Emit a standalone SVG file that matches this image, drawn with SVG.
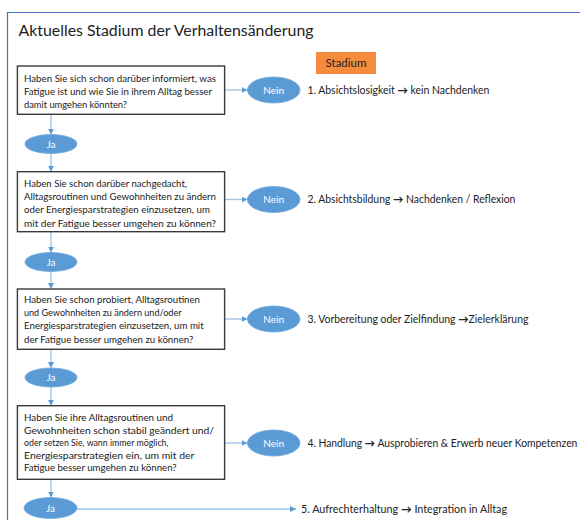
<svg xmlns="http://www.w3.org/2000/svg" width="580" height="520" viewBox="0 0 580 520">
<style>
  .frame{fill:none;stroke:#4472C4;stroke-width:1.2}
  .title{font-family:Lato,"Liberation Sans",sans-serif;font-size:15.5px;fill:#222}
  .box{fill:#fff;stroke:#3a3a3a;stroke-width:1.4}
  .qt{font-family:Lato,"Liberation Sans",sans-serif;font-size:9.6px;fill:#222}
  .ell{fill:#5B9BD5;stroke:#6FA8DC;stroke-width:0.8}
  .et{font-family:Lato,"Liberation Sans",sans-serif;font-size:10px;fill:#fff;text-anchor:middle}
  .lab{font-family:Lato,"Liberation Sans",sans-serif;font-size:10.5px;fill:#222}
  .ar{font-weight:bold}
  .con{stroke:#9DC3E6;stroke-width:1.3;fill:none}
  .stad{fill:#F68B3E}
  .st{font-family:Lato,"Liberation Sans",sans-serif;font-size:11.5px;fill:#222;text-anchor:middle}
</style>
<defs>
  <marker id="ah" markerUnits="userSpaceOnUse" markerWidth="6" markerHeight="6" refX="6" refY="3" orient="auto">
    <path d="M0,0 L6,3 L0,6 z" fill="#5B9BD5"/>
  </marker>
</defs>
<rect width="580" height="520" fill="#fff"/>
<path class="frame" d="M7.5,530 L7.5,12.5 L590,12.5"/>
<text class="title" x="18.5" y="36" textLength="295" lengthAdjust="spacingAndGlyphs">Aktuelles Stadium der Verhaltensänderung</text>

<g id="stadium">
  <rect class="stad" x="316" y="52" width="60" height="22"/>
  <text class="st" x="346" y="67">Stadium</text>
</g>

<g id="connectors">
  <line class="con" x1="51" y1="114.3" x2="51" y2="134.5" marker-end="url(#ah)"/>
  <line class="con" x1="51" y1="153.5" x2="51" y2="171.7" marker-end="url(#ah)"/>
  <line class="con" x1="51" y1="231.7" x2="51" y2="252.5" marker-end="url(#ah)"/>
  <line class="con" x1="51" y1="271.5" x2="51" y2="289" marker-end="url(#ah)"/>
  <line class="con" x1="51" y1="349.3" x2="51" y2="368" marker-end="url(#ah)"/>
  <line class="con" x1="51" y1="387" x2="51" y2="405.7" marker-end="url(#ah)"/>
  <line class="con" x1="51" y1="479.3" x2="51" y2="497.5" marker-end="url(#ah)"/>
  <line class="con" x1="225" y1="90" x2="247.5" y2="90" marker-end="url(#ah)"/>
  <line class="con" x1="225" y1="199.5" x2="247.5" y2="199.5" marker-end="url(#ah)"/>
  <line class="con" x1="225" y1="319" x2="247.5" y2="319" marker-end="url(#ah)"/>
  <line class="con" x1="225" y1="443" x2="247.5" y2="443" marker-end="url(#ah)"/>
  <line class="con" x1="77" y1="509" x2="296" y2="509" marker-end="url(#ah)"/>
</g>

<g id="q1">
  <rect class="box" x="17.4" y="66" width="207.2" height="48.3"/>
  <text class="qt" x="24" y="82" textLength="192" lengthAdjust="spacingAndGlyphs">Haben Sie sich schon darüber informiert, was</text>
  <text class="qt" x="24" y="95" textLength="188" lengthAdjust="spacingAndGlyphs">Fatigue ist und wie Sie in ihrem Alltag besser</text>
  <text class="qt" x="24" y="108" textLength="103" lengthAdjust="spacingAndGlyphs">damit umgehen könnten?</text>
</g>
<g id="nein1">
  <ellipse class="ell" cx="273.7" cy="90" rx="26.3" ry="13"/>
  <text class="et" x="273.7" y="93.5">Nein</text>
</g>
<text class="lab" x="307.4" y="93.8" textLength="182" lengthAdjust="spacingAndGlyphs">1. Absichtslosigkeit <tspan class="ar">→</tspan> kein Nachdenken</text>

<g id="ja2">
  <ellipse class="ell" cx="51" cy="144" rx="26" ry="9.5"/>
  <text class="et" x="51" y="147.5">Ja</text>
</g>

<g id="q2">
  <rect class="box" x="17.4" y="171.7" width="207.2" height="60"/>
  <text class="qt" x="24" y="187" textLength="163" lengthAdjust="spacingAndGlyphs">Haben Sie schon darüber nachgedacht,</text>
  <text class="qt" x="24" y="200.2" textLength="192" lengthAdjust="spacingAndGlyphs">Alltagsroutinen und Gewohnheiten zu ändern</text>
  <text class="qt" x="24" y="213.4" textLength="186" lengthAdjust="spacingAndGlyphs">oder Energiesparstrategien einzusetzen, um</text>
  <text class="qt" x="24" y="226.6" textLength="192" lengthAdjust="spacingAndGlyphs">mit der Fatigue besser umgehen zu können?</text>
</g>
<g id="nein2">
  <ellipse class="ell" cx="273.7" cy="199.5" rx="26.3" ry="13"/>
  <text class="et" x="273.7" y="203">Nein</text>
</g>
<text class="lab" x="307.4" y="203.3" textLength="208" lengthAdjust="spacingAndGlyphs">2. Absichtsbildung <tspan class="ar">→</tspan> Nachdenken / Reflexion</text>

<g id="ja3">
  <ellipse class="ell" cx="51" cy="262" rx="26" ry="9.5"/>
  <text class="et" x="51" y="265.5">Ja</text>
</g>

<g id="q3">
  <rect class="box" x="17.4" y="289" width="207.2" height="60.3"/>
  <text class="qt" x="24" y="303" textLength="176" lengthAdjust="spacingAndGlyphs">Haben Sie schon probiert, Alltagsroutinen</text>
  <text class="qt" x="24" y="316.2" textLength="157.5" lengthAdjust="spacingAndGlyphs">und Gewohnheiten zu ändern und/oder</text>
  <text class="qt" x="24" y="329.4" textLength="179.7" lengthAdjust="spacingAndGlyphs">Energiesparstrategien einzusetzen, um mit</text>
  <text class="qt" x="24" y="342.6" textLength="169.3" lengthAdjust="spacingAndGlyphs">der Fatigue besser umgehen zu können?</text>
</g>
<g id="nein3">
  <ellipse class="ell" cx="273.7" cy="319" rx="26.3" ry="13"/>
  <text class="et" x="273.7" y="322.5">Nein</text>
</g>
<text class="lab" x="307.4" y="322.8" textLength="221" lengthAdjust="spacingAndGlyphs">3. Vorbereitung oder Zielfindung <tspan class="ar">→</tspan>Zielerklärung</text>

<g id="ja4">
  <ellipse class="ell" cx="51" cy="377.5" rx="26" ry="9.5"/>
  <text class="et" x="51" y="381">Ja</text>
</g>

<g id="q4">
  <rect class="box" x="17.4" y="405.7" width="207.2" height="73.6"/>
  <text class="qt" x="24" y="421" textLength="149" lengthAdjust="spacingAndGlyphs">Haben Sie ihre Alltagsroutinen und</text>
  <text class="qt" x="24" y="433.5" textLength="190" lengthAdjust="spacingAndGlyphs">Gewohnheiten schon stabil geändert und/</text>
  <text class="qt" x="24" y="446" textLength="144.5" lengthAdjust="spacingAndGlyphs">oder setzen Sie, wann immer möglich,</text>
  <text class="qt" x="24" y="458.5" textLength="170.4" lengthAdjust="spacingAndGlyphs">Energiesparstrategien ein, um mit der</text>
  <text class="qt" x="24" y="471" textLength="152.7" lengthAdjust="spacingAndGlyphs">Fatigue besser umgehen zu können?</text>
</g>
<g id="nein4">
  <ellipse class="ell" cx="273.7" cy="443" rx="26.3" ry="13"/>
  <text class="et" x="273.7" y="446.5">Nein</text>
</g>
<text class="lab" x="307.4" y="446.8" textLength="270" lengthAdjust="spacingAndGlyphs">4. Handlung <tspan class="ar">→</tspan> Ausprobieren &amp; Erwerb neuer Kompetenzen</text>

<g id="ja5">
  <ellipse class="ell" cx="50.5" cy="508" rx="26.5" ry="10.5"/>
  <text class="et" x="50.5" y="511.5">Ja</text>
</g>
<text class="lab" x="301" y="512.5" textLength="206" lengthAdjust="spacingAndGlyphs">5. Aufrechterhaltung <tspan class="ar">→</tspan> Integration in Alltag</text>
</svg>
